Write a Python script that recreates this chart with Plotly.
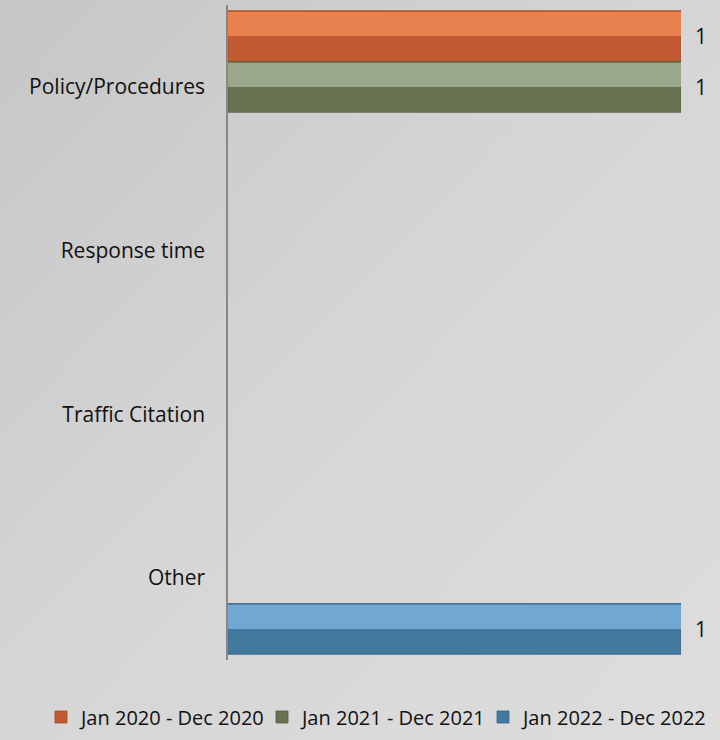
import base64
import plotly.graph_objects as go

categories = ["Policy/Procedures", "Response time", "Traffic Citation", "Other"]
series_names = ["Jan 2020 - Dec 2020", "Jan 2021 - Dec 2021", "Jan 2022 - Dec 2022"]
values_2020 = [1, None, None, None]
values_2021 = [1, None, None, None]
values_2022 = [None, None, None, 1]

series_values = [values_2020, values_2021, values_2022]
dark_colors = ["#c25b31", "#667252", "#43789f"]
light_colors = ["#e8804f", "#9aa78a", "#72a6d3"]
edge_colors = ["#a34a26", "#535e40", "#356485"]
offsets = [-0.465, -0.155, 0.155]
legend_widths = [176, 176, None]
bar_w = 0.31

W, H = 720, 740
ml, mr, mt, mb = 228, 39, 5, 80
pw, ph = W - ml - mr, H - mt - mb

FONT = "Open Sans"
FS = 21

fig = go.Figure()

for name, vals, dc, ec, off, lw in zip(series_names, series_values, dark_colors,
                                       edge_colors, offsets, legend_widths):
    fig.add_trace(go.Bar(
        name=name, x=vals, y=categories, orientation="h",
        offset=off, width=bar_w,
        marker=dict(color=dc, line=dict(color=ec, width=0.8)),
        texttemplate="\u00a0\u00a0%{x}", textposition="outside",
        textfont=dict(family=FONT, size=FS, color="#111111"),
        cliponaxis=False,
        legendwidth=lw,
    ))

for vals, lc, off in zip(series_values, light_colors, offsets):
    fig.add_trace(go.Bar(
        x=vals, y=categories, orientation="h",
        offset=off + 0.008, width=bar_w / 2 - 0.008,
        marker=dict(color=lc, line=dict(width=0)),
        showlegend=False, hoverinfo="skip",
    ))

svg = (
    '<svg xmlns="http://www.w3.org/2000/svg" width="720" height="740">'
    '<defs><linearGradient id="g" x1="0" y1="0" x2="1" y2="1">'
    '<stop offset="0" stop-color="#c6c6c6"/>'
    '<stop offset="0.5" stop-color="#d6d6d6"/>'
    '<stop offset="1" stop-color="#dddddd"/>'
    '</linearGradient></defs>'
    '<rect width="720" height="740" fill="url(#g)"/></svg>'
)
src = "data:image/svg+xml;base64," + base64.b64encode(svg.encode()).decode()

fig.update_layout(
    width=W, height=H,
    margin=dict(l=ml, r=mr, t=mt, b=mb, autoexpand=False),
    barmode="overlay",
    paper_bgcolor="#d4d4d4",
    plot_bgcolor="rgba(0,0,0,0)",
    font=dict(family=FONT, size=FS, color="#111111"),
    showlegend=True,
    legend=dict(
        orientation="h",
        x=(41 - ml) / pw, xanchor="left",
        y=-(717 - (H - mb)) / ph, yanchor="middle",
        font=dict(family=FONT, size=20, color="#111111"),
        itemwidth=30, bgcolor="rgba(0,0,0,0)",
        traceorder="normal",
    ),
    images=[dict(
        source=src, xref="paper", yref="paper",
        x=-ml / pw, y=1 + mt / ph, sizex=W / pw, sizey=H / ph,
        xanchor="left", yanchor="top", sizing="stretch", layer="below",
    )],
)

fig.update_xaxes(
    range=[0, 1], dtick=1, showticklabels=False, showgrid=True,
    gridcolor="#c2c2c2", gridwidth=1, zeroline=False, showline=False,
)
fig.update_yaxes(
    type="category", categoryorder="array", categoryarray=categories,
    range=[3.5, -0.5], showline=True, linecolor="#878787", linewidth=1.5,
    showgrid=False, ticks="", ticklabelstandoff=17,
    tickfont=dict(family=FONT, size=FS, color="#111111"),
)

fig.write_html(
    "out.html",
    config={"displayModeBar": False},
    post_script="document.body.style.margin='0';document.body.style.overflow='hidden';",
)
